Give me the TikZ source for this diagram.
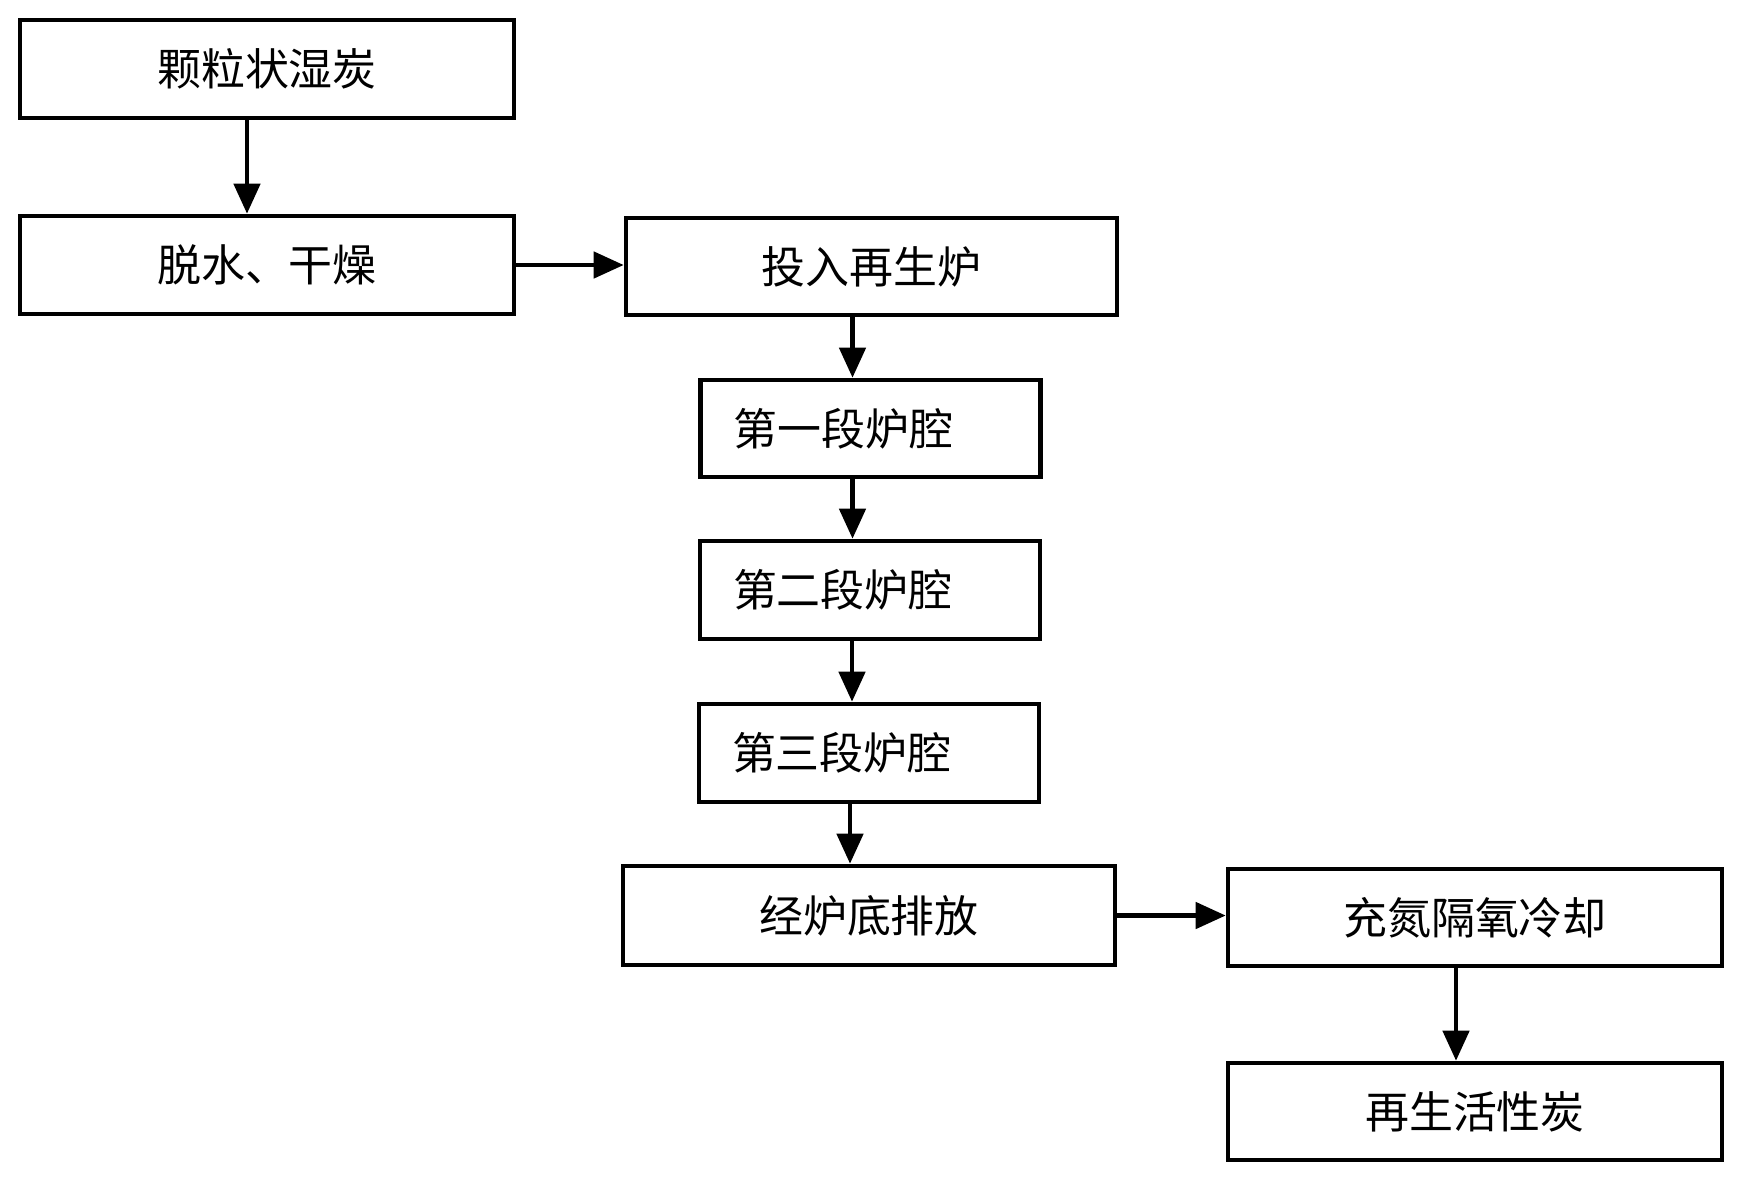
\documentclass[tikz,border=0pt]{standalone}
\usepackage{fontspec}
\setmainfont{Noto Sans CJK SC}
\usetikzlibrary{arrows.meta}
\tikzset{
  box/.style={draw,line width=1.3pt,inner sep=0pt,font=\fontsize{12.5pt}{14pt}\selectfont},
  stagebox/.style={box,text width=2.74cm,inner xsep=0.33cm,align=left},
  flow/.style={line width=1.3pt,-{Triangle[length=3mm,width=2.6mm]}}
}
\begin{document}
\begin{tikzpicture}
            \useasboundingbox (0,0) rectangle (17.53,-11.86);
            \node[box,minimum width=4.94cm,minimum height=0.98cm] (feed) at (2.67,-0.69) {颗粒状湿炭};
            \node[box,minimum width=4.94cm,minimum height=0.98cm] (dry) at (2.67,-2.65) {脱水、干燥};
            \node[box,minimum width=4.91cm,minimum height=0.97cm] (load) at (8.715,-2.665) {投入再生炉};
            \node[stagebox,minimum height=0.97cm] (stageA) at (8.705,-4.285) {第一段炉腔};
            \node[stagebox,minimum height=0.98cm] (stageB) at (8.70,-5.90) {第二段炉腔};
            \node[stagebox,minimum height=0.98cm] (stageC) at (8.69,-7.53) {第三段炉腔};
            \node[box,minimum width=4.92cm,minimum height=0.99cm] (drain) at (8.69,-9.155) {经炉底排放};
            \node[box,minimum width=4.94cm,minimum height=0.97cm] (cool) at (14.75,-9.175) {充氮隔氧冷却};
            \node[box,minimum width=4.94cm,minimum height=0.97cm] (product) at (14.75,-11.115) {再生活性炭};
            % connectors
            \draw[flow] ([xshift=-2mm]feed.south) -- ([xshift=-2mm]feed.south |- dry.north);
            \draw[flow] (dry.east) -- (dry.east -| load.west);
            \draw[flow] ([xshift=-1.9mm]load.south) -- ([xshift=-1.9mm]load.south |- stageA.north);
            \draw[flow] ([xshift=-1.8mm]stageA.south) -- ([xshift=-1.8mm]stageA.south |- stageB.north);
            \draw[flow] ([xshift=-1.8mm]stageB.south) -- ([xshift=-1.8mm]stageB.south |- stageC.north);
            \draw[flow] ([xshift=-1.9mm]stageC.south) -- ([xshift=-1.9mm]stageC.south |- drain.north);
            \draw[flow] (drain.east) -- (drain.east -| cool.west);
            \draw[flow] ([xshift=-1.9mm]cool.south) -- ([xshift=-1.9mm]cool.south |- product.north);
\end{tikzpicture}
\end{document}
